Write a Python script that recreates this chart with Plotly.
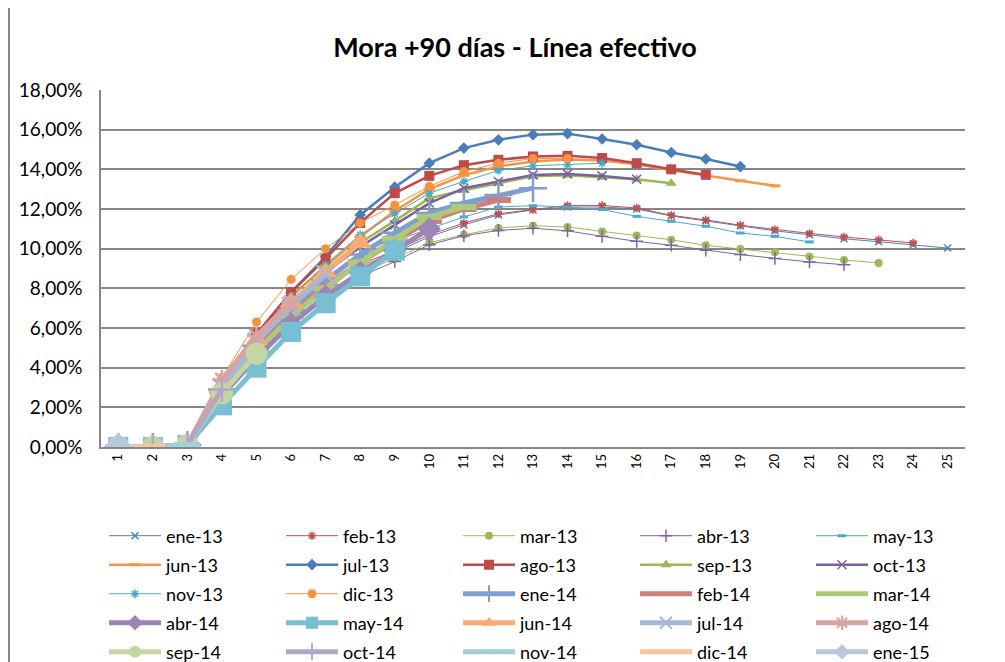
import plotly.graph_objects as go

names = ["ene-13", "feb-13", "mar-13", "abr-13", "may-13", "jun-13", "jul-13", "ago-13", "sep-13",
         "oct-13", "nov-13", "dic-13", "ene-14", "feb-14", "mar-14", "abr-14", "may-14", "jun-14",
         "jul-14", "ago-14", "sep-14", "oct-14", "nov-14", "dic-14", "ene-15"]

ene_13 = [0, 0, 0.1, 2.9, 5.2, 6.9, 8.2, 9.1, 9.8, 10.6, 11.2, 11.7, 11.95, 12.1, 12.1, 12.0, 11.65, 11.4, 11.15, 10.9, 10.7, 10.5, 10.35, 10.2, 10.03]
feb_13 = [0, 0, 0.1, 3.0, 5.3, 7.0, 8.3, 9.2, 9.9, 10.7, 11.29, 11.76, 11.97, 12.18, 12.18, 12.05, 11.68, 11.45, 11.18, 10.96, 10.77, 10.59, 10.45, 10.29]
mar_13 = [0, 0, 0.1, 2.6, 4.6, 6.4, 7.8, 8.8, 9.5, 10.3, 10.7, 11.04, 11.16, 11.09, 10.87, 10.66, 10.45, 10.17, 9.98, 9.82, 9.61, 9.43, 9.28]
abr_13 = [0, 0, 0.1, 2.5, 4.5, 6.3, 7.6, 8.6, 9.35, 10.2, 10.65, 10.92, 11.03, 10.9, 10.62, 10.37, 10.17, 9.92, 9.70, 9.51, 9.33, 9.19]
may_13 = [0, 0, 0.1, 2.9, 5.3, 7.1, 8.5, 9.6, 10.4, 11.0, 11.6, 12.1, 12.17, 12.1, 11.97, 11.63, 11.38, 11.13, 10.79, 10.62, 10.34]
jun_13 = [0, 0, 0.1, 3.2, 5.7, 7.6, 9.1, 10.6, 11.9, 13.0, 13.7, 14.15, 14.4, 14.5, 14.45, 14.25, 13.95, 13.7, 13.42, 13.17]
jul_13 = [0, 0, 0.1, 3.2, 5.7, 7.8, 9.6, 11.7, 13.1, 14.31, 15.07, 15.49, 15.75, 15.80, 15.53, 15.24, 14.85, 14.52, 14.14]
ago_13 = [0, 0, 0.1, 3.1, 5.7, 7.8, 9.5, 11.3, 12.8, 13.67, 14.21, 14.48, 14.65, 14.68, 14.57, 14.31, 14.0, 13.72]
sep_13 = [0, 0, 0.1, 3.0, 5.4, 7.3, 8.9, 10.3, 11.4, 12.55, 12.95, 13.3, 13.65, 13.7, 13.6, 13.5, 13.3]
oct_13 = [0, 0, 0.1, 3.0, 5.3, 7.2, 8.8, 10.1, 11.2, 12.3, 13.05, 13.39, 13.72, 13.77, 13.67, 13.5]
nov_13 = [0, 0, 0.1, 3.1, 5.6, 7.6, 9.2, 10.7, 11.76, 12.8, 13.39, 13.94, 14.18, 14.23, 14.31]
dic_13 = [0, 0, 0.1, 3.5, 6.3, 8.45, 10.0, 11.3, 12.2, 13.14, 13.89, 14.31, 14.55, 14.55]
ene_14 = [0, 0, 0.1, 2.9, 5.1, 6.9, 8.4, 9.7, 10.8, 11.8, 12.3, 12.7, 13.05]
feb_14 = [0, 0, 0.1, 2.8, 4.9, 6.7, 8.1, 9.3, 10.4, 11.4, 12.0, 12.45]
mar_14 = [0, 0, 0.1, 2.8, 4.8, 6.6, 8.0, 9.3, 10.5, 11.6, 12.1]
abr_14 = [0, 0, 0.1, 2.6, 4.5, 6.2, 7.6, 8.8, 9.9, 11.0]
may_14 = [0, 0, 0.1, 2.1, 4.0, 5.8, 7.25, 8.6, 9.9]
jun_14 = [0, 0, 0.1, 3.1, 5.4, 7.3, 8.8, 10.3]
jul_14 = [0, 0, 0.1, 3.0, 5.3, 7.1, 8.7]
ago_14 = [0, 0, 0.1, 3.4, 5.6, 7.3]
sep_14 = [0, 0, 0.1, 2.7, 4.7]
oct_14 = [0, 0, 0.1, 2.9]
nov_14 = [0, 0, 0.1]
dic_14 = [0, 0]
ene_15 = [0]

series = [ene_13, feb_13, mar_13, abr_13, may_13, jun_13, jul_13, ago_13, sep_13, oct_13, nov_13, dic_13,
          ene_14, feb_14, mar_14, abr_14, may_14, jun_14, jul_14, ago_14, sep_14, oct_14, nov_14, dic_14, ene_15]

colors = ["#4F81BD", "#C0504D", "#9BBB59", "#8064A2", "#4BACC6", "#F79646",
          "#4A7EBB", "#BE4B48", "#98B954", "#7D60A0", "#46AAC5", "#F69240",
          "#7F9FCF", "#CF7F7D", "#AFC97A", "#9C86B7", "#78BFD3", "#F9AB73",
          "#A5B8D8", "#D9A3A2", "#C4D6A4", "#B3A6C7", "#A3CEDC", "#F9C3A4", "#B9C7DF"]
widths = [1, 1, 1, 1, 1, 2.5, 2.5, 2.5, 2.5, 2.5, 1, 1,
          5, 5, 5, 5, 5, 5, 5, 5, 5, 5, 5, 5, 5]
symbols = ["x-thin-open", "asterisk-open", "circle", "cross-thin-open", "line-ew-open", "line-ew-open",
           "diamond", "square", "triangle-up", "x-thin-open", "asterisk-open", "circle",
           "cross-thin-open", "line-ew-open", "line-ew-open", "diamond", "square", "triangle-up",
           "x-thin-open", "asterisk-open", "circle", "cross-thin-open", "line-ew-open", "line-ew-open", "diamond"]
msizes = [7, 7, 8, 9, 6, 8, 9, 10, 10, 9, 7, 9,
          20, 18, 18, 18, 20, 20, 18, 16, 22, 18, 18, 18, 22]

# The page has an 8 px body margin; the figure is sized so it fills the 1005x662 window.
OFF = 8
W, H = 1005 - OFF, 662 - OFF

# legend layout (page pixels): sample start of each column, centre of each row
col_px = [109, 286, 463, 640, 816]
row_px = [536, 565, 594, 623, 652]

fig = go.Figure()
legends = {}
for i, (name, vals, c, w, s, ms) in enumerate(zip(names, series, colors, widths, symbols, msizes)):
    x = list(range(1, len(vals) + 1))
    open_sym = s.endswith("-open")
    if s.startswith("line-ew"):
        mline = 3 if w < 5 else 6
    elif open_sym:
        mline = 1.5 if w < 5 else 2.5
    else:
        mline = 0
    lid = "legend" if i == 0 else f"legend{i + 1}"
    fig.add_trace(go.Scatter(
        x=x, y=vals, name=name, mode="lines+markers",
        legend=lid, showlegend=True,
        line=dict(color=c, width=w),
        marker=dict(symbol=s, size=ms, color=c, line=dict(color=c, width=mline)),
    ))
    lx = col_px[i % 5] - 5 - OFF
    ly = row_px[i // 5] - OFF
    legends[lid] = dict(orientation="h", xref="container", yref="container",
                        x=lx / W, y=1 - ly / H, xanchor="left", yanchor="middle",
                        itemwidth=52, font=dict(size=18, family="Lato, sans-serif"),
                        itemsizing="constant" if w >= 5 else "trace",
                        bgcolor="rgba(0,0,0,0)", visible=True)

yt = list(range(0, 19, 2))

fig.update_layout(
    width=W, height=H,
    showlegend=True,
    margin=dict(l=101 - OFF, r=40, t=90 - OFF, b=215, autoexpand=False),
    paper_bgcolor="white", plot_bgcolor="white",
    font=dict(family="Lato, Liberation Sans, sans-serif", color="#000000"),
    title=dict(text="<b>Mora +90 días - Línea efectivo</b>", x=(515 - OFF) / W, xanchor="center",
               xref="container", yref="container",
               y=1 - (48 - OFF) / H, yanchor="middle", font=dict(size=27, family="Lato, sans-serif")),
    xaxis=dict(range=[0.5, 25.5], tickmode="array", tickvals=list(range(1, 26)),
               ticktext=[str(i) for i in range(1, 26)], tickangle=-90,
               showgrid=False, zeroline=False, showline=True, linecolor="#868686", linewidth=1.5,
               ticks="", tickfont=dict(size=13), fixedrange=True),
    yaxis=dict(range=[0, 18], tickmode="array", tickvals=yt,
               ticktext=[f"{v},00%" for v in yt],
               showgrid=True, gridcolor="#868686", gridwidth=1.5, zeroline=False,
               showline=True, linecolor="#868686", linewidth=1.5, ticks="",
               ticklabelstandoff=13,
               tickfont=dict(size=19), fixedrange=True),
    shapes=[dict(type="line", xref="paper", yref="paper", x0=-0.1065, x1=-0.1065, y0=-0.7, y1=1.3,
                 line=dict(color="#868686", width=2), layer="below")],
    **legends,
)

fig.write_html("out.html")
